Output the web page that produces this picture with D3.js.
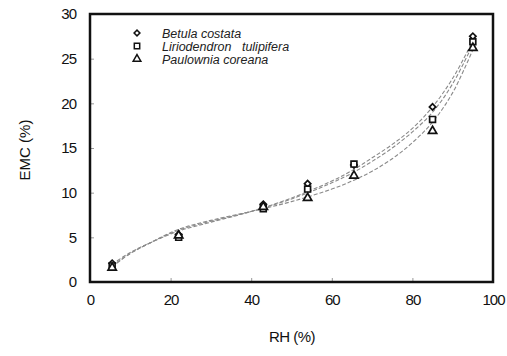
<!DOCTYPE html>
<html><head><meta charset="utf-8">
<script src="https://cdn.jsdelivr.net/npm/d3@7"></script>
<style>body{margin:0;background:#fff}svg{display:block}text{font-family:"Liberation Sans",Arial,sans-serif}</style>
</head><body><svg id="c" width="507" height="356"></svg>
<script>
const rh = [5.5, 22, 43, 54, 65.5, 85, 95];
const seriesNames = ["Betula costata", "Liriodendron   tulipifera", "Paulownia coreana"];
const betula = [2.1, 5.3, 8.7, 11.0, 13.1, 19.6, 27.5];
const lirio = [1.8, 5.0, 8.2, 10.4, 13.2, 18.2, 26.9];
const paulo = [1.6, 5.2, 8.4, 9.4, 11.9, 16.9, 26.2];
const fitRH = [5.5, 10, 15, 22, 30, 40, 50, 60, 65.5, 70, 75, 80, 85, 90, 95];
const fitBetula = [2.0, 3.3, 4.4, 5.7, 6.7, 7.9, 9.4, 11.3, 12.6, 13.9, 15.4, 17.2, 19.6, 22.8, 27.0];
const fitLirio = [1.8, 3.2, 4.4, 5.8, 6.8, 7.9, 9.3, 11.1, 12.3, 13.5, 15.0, 16.8, 19.0, 22.2, 26.6];
const fitPaulo = [1.7, 3.2, 4.4, 5.9, 6.9, 7.9, 9.0, 10.4, 11.4, 12.4, 13.8, 15.6, 17.9, 21.2, 26.0];
const xTicks = [0, 20, 40, 60, 80, 100];
const yTicks = [0, 5, 10, 15, 20, 25, 30];

const svg = d3.select("#c");
const L = 90, R = 493, T = 14, B = 282;
const x = d3.scaleLinear().domain([0, 100]).range([L, R]);
const y = d3.scaleLinear().domain([0, 30]).range([B, T]);

// fitted curves
const fits = [fitBetula, fitLirio, fitPaulo];
const line = d3.line().x(d => x(d[0])).y(d => y(d[1])).curve(d3.curveCatmullRom);
fits.forEach(f => {
  svg.append("path").attr("d", line(fitRH.map((r, i) => [r, f[i]])))
    .attr("fill", "none").attr("stroke", "#8a8a8a").attr("stroke-width", 1.1)
    .attr("stroke-dasharray", "4,2");
});

// axes
const xa = svg.append("g").attr("transform", `translate(0,${B})`)
  .call(d3.axisBottom(x).tickValues(xTicks).tickSize(-4).tickPadding(12).tickFormat(d3.format("d")));
const ya = svg.append("g").attr("transform", `translate(${L},0)`)
  .call(d3.axisLeft(y).tickValues(yTicks).tickSize(-4).tickPadding(12).tickFormat(d3.format("d")));
[xa, ya].forEach(a => {
  a.select(".domain").remove();
  a.selectAll(".tick line").attr("stroke", "#999").attr("stroke-width", 1);
  a.selectAll("text").attr("font-size", 15).attr("fill", "#111").attr("letter-spacing", -1);
});
ya.selectAll("text").attr("dx", -2);

// frame
svg.append("rect").attr("x", L).attr("y", T).attr("width", R - L).attr("height", B - T)
  .attr("fill", "none").attr("stroke", "#111").attr("stroke-width", 2.5);

// markers
const sym = [d3.symbolSquare, d3.symbolSquare, d3.symbolTriangle];
const rot = [45, 0, 0];
const sizes = [20, 34, 30];
[betula, lirio, paulo].forEach((s, k) => {
  svg.append("g").selectAll("path").data(s).join("path")
    .attr("transform", (d, i) => `translate(${x(rh[i])},${y(d)}) rotate(${rot[k]})`)
    .attr("d", d3.symbol().type(sym[k]).size(sizes[k]))
    .attr("fill", "#fff").attr("stroke", "#111").attr("stroke-width", 1.7);
});

// legend
seriesNames.forEach((n, i) => {
  const ly = 33 + i * 13;
  svg.append("path").attr("transform", `translate(137,${ly}) rotate(${rot[i]})`)
    .attr("d", d3.symbol().type(sym[i]).size(sizes[i] * 0.85))
    .attr("fill", "#fff").attr("stroke", "#111").attr("stroke-width", 1.5);
  svg.append("text").attr("x", 162).attr("y", ly + 4.5).attr("font-size", 12.5)
    .attr("font-style", "italic").attr("fill", "#222").attr("xml:space", "preserve")
    .style("white-space", "pre").text(n);
});

// axis titles
svg.append("text").attr("x", 292).attr("y", 342).attr("text-anchor", "middle")
  .attr("font-size", 15).attr("fill", "#111").attr("letter-spacing", -0.5).text("RH (%)");
svg.append("text").attr("transform", "translate(30,150) rotate(-90)").attr("text-anchor", "middle")
  .attr("font-size", 15).attr("fill", "#111").text("EMC (%)");
</script></body></html>
